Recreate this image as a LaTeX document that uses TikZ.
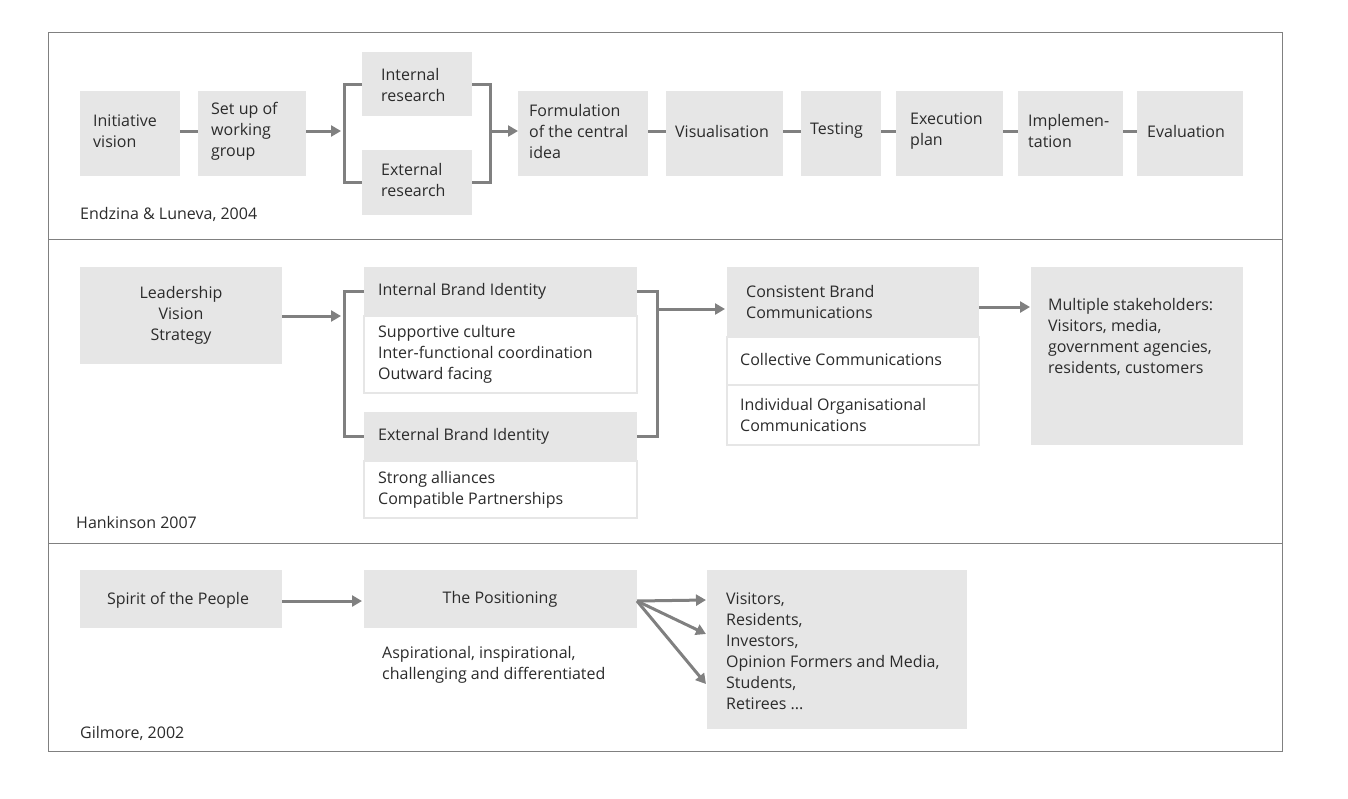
\documentclass[tikz,border=0pt]{standalone}
\usepackage{fontspec}
\setmainfont{Open Sans}
\usetikzlibrary{arrows.meta}
\definecolor{boxg}{HTML}{E6E6E6}
\definecolor{lineg}{HTML}{808080}
\definecolor{txt}{HTML}{2B2B2B}
\begin{document}
\begin{tikzpicture}[x=1pt,y=-1pt,
  font=\fontsize{16}{21}\selectfont\color{txt},
  gb/.style={fill=boxg,draw=none,inner sep=0pt},
  wb/.style={fill=white,draw=boxg,line width=1.2pt,inner sep=0pt},
  conn/.style={draw=lineg,line width=3pt},
  arr/.style={conn,-{Triangle[length=10pt,width=11pt]}},
  lbl/.style={align=left,anchor=west,inner sep=0pt}]
\useasboundingbox (0,0) rectangle (1348,798);
\draw[lineg,line width=0.8pt] (48,32) rectangle (1282,751);
\draw[lineg,line width=0.8pt] (48,239) -- (1282,239) (48,543) -- (1282,543);
% Row 1
\newcommand{\gbox}[6]{\path[gb] (#1,#2) rectangle (#3,#4); \node[lbl] (#5) at (#1+14,{(#2+#4)/2}) {#6};}
\path[gb] (80,91) rectangle (180,176) coordinate (iv);
\node[lbl] (n1) at (93,131) {Initiative\\vision};
\path[gb] (198,91) rectangle (306,176);
\node[lbl] (n2) at (211,131) {Set up of\\working\\group};
\path[gb] (362,52) rectangle (472,116);
\node[lbl] (n3) at (381,85) {Internal\\research};
\path[gb] (362,150) rectangle (472,215);
\node[lbl] (n4) at (381,180) {External\\research};
\path[gb] (518,91) rectangle (648,176);
\node[lbl] (n5) at (529,131) {Formulation\\of the central\\idea};
\path[gb] (666,91) rectangle (783,176);
\node[lbl] (n6) at (675,131) {Visualisation};
\path[gb] (801,91) rectangle (881,176);
\node[lbl] (n7) at (810,131) {Testing};
\path[gb] (896,91) rectangle (1003,176);
\node[lbl] (n8) at (910,131) {Execution\\plan};
\path[gb] (1018,91) rectangle (1123,176);
\node[lbl] (n9) at (1028,131) {Implemen-\\tation};
\path[gb] (1137,91) rectangle (1243,176);
\node[lbl] (n10) at (1147,131) {Evaluation};
\coordinate (a1) at (180,131); \coordinate (b1) at (198,131);
\draw[conn] (a1) -- (b1);
\coordinate (a2) at (306,131); \coordinate (b2) at (341,131);
\draw[arr] (a2) -- (b2);
\draw[conn] (362,84) -| (344,182) -- (362,182);
\draw[conn] (472,84) -| (490,182) -- (472,182);
\coordinate (a3) at (490,131); \coordinate (b3) at (518,131);
\draw[arr] (a3) -- (b3);
\draw[conn] (648,131) -- (666,131) (783,131) -- (801,131) (881,131) -- (896,131) (1003,131) -- (1018,131) (1123,131) -- (1137,131);
\node[lbl] (l1) at (80,214) {Endzina \& Luneva, 2004};
% Row 2
\path[gb] (80,267) rectangle (282,364);
\node[align=center] (lv) at (181,315) {Leadership\\Vision\\Strategy};
\coordinate (c1) at (282,316); \coordinate (d1) at (341,316);
\draw[arr] (c1) -- (d1);
\path[gb] (364,267) rectangle (637,316);
\node[lbl] (ibi) at (378,291) {Internal Brand Identity};
\path[wb] (364,316) rectangle (637,393);
\node[lbl] (ibt) at (378,354) {Supportive culture\\Inter-functional coordination\\Outward facing};
\path[gb] (364,412) rectangle (637,461);
\node[lbl] (ebi) at (378,436) {External Brand Identity};
\path[wb] (364,461) rectangle (637,518);
\node[lbl] (ebt) at (378,490) {Strong alliances\\Compatible Partnerships};
\draw[conn] (364,291) -| (344,436) -- (364,436);
\draw[conn] (637,291) -| (657,436) -- (637,436);
\coordinate (c2) at (657,309); \coordinate (d2) at (725,309);
\draw[arr] (c2) -- (d2);
\path[gb] (727,267) rectangle (979,337);
\node[lbl] (cbc) at (746,302) {Consistent Brand\\Communications};
\path[wb] (727,337) rectangle (979,385);
\node[lbl] (cc) at (740,359) {Collective Communications};
\path[wb] (727,385) rectangle (979,445);
\node[lbl] (ioc) at (740,415) {Individual Organisational\\Communications};
\coordinate (c3) at (979,307); \coordinate (d3) at (1030,307);
\draw[arr] (c3) -- (d3);
\path[gb] (1031,267) rectangle (1243,445);
\node[lbl] (ms) at (1048,337) {Multiple stakeholders:\\Visitors, media,\\government agencies,\\residents, customers};
\node[lbl] (l2) at (76,522) {Hankinson 2007};
% Row 3
\path[gb] (80,570) rectangle (282,628);
\node (sp) at (178,600) {Spirit of the People};
\coordinate (e1) at (282,601); \coordinate (f1) at (362,601);
\draw[arr] (e1) -- (f1);
\path[gb] (364,570) rectangle (637,628);
\node (pos) at (500,599) {The Positioning};
\node[lbl] (asp) at (382,665) {Aspirational, inspirational,\\challenging and differentiated};
\path[gb] (707,570) rectangle (967,729);
\node[lbl] (vis) at (726,651) {Visitors,\\Residents,\\Investors,\\Opinion Formers and Media,\\Students,\\Retirees ...};
\coordinate (g0) at (637,601);
\coordinate (h1) at (706,600); \coordinate (h2) at (706,634); \coordinate (h3) at (706,684);
\draw[arr] (g0) -- (h1); \draw[arr] (g0) -- (h2); \draw[arr] (g0) -- (h3);
\node[lbl] (l3) at (80,733) {Gilmore, 2002};
\end{tikzpicture}
\end{document}
